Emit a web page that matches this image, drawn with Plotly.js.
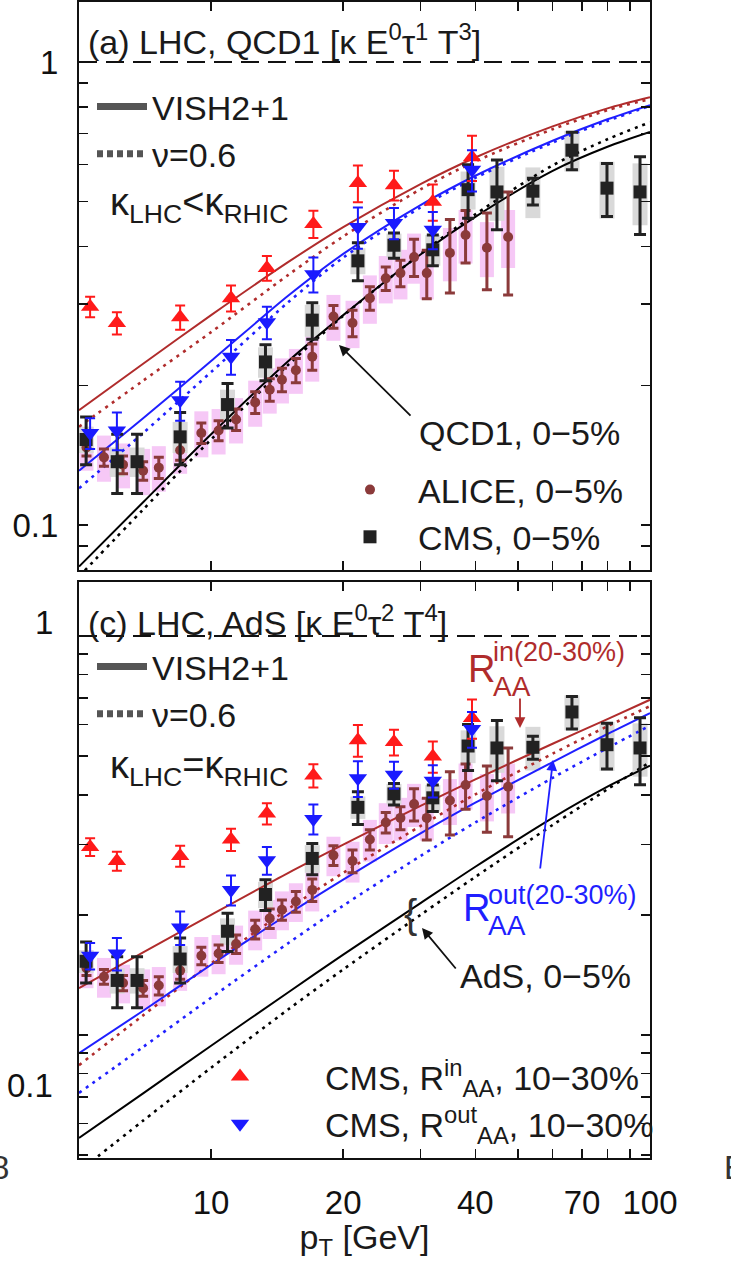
<!DOCTYPE html>
<html><head><meta charset="utf-8">
<script src="https://cdn.plot.ly/plotly-3.0.1.min.js"></script>
<style>html,body{margin:0;padding:0;background:#fff}#chart{width:731px;height:1261px}</style>
</head><body><div id="chart"></div>
<script>
// ---------- data ----------
const curvePt = [5, 7, 10, 15, 20, 30, 40, 60, 80, 100];
// panel (a) QCD1
const qcdInVish  = [0.177, 0.223, 0.284, 0.370, 0.440, 0.545, 0.622, 0.726, 0.794, 0.839];
const qcdInNu    = [0.163, 0.205, 0.261, 0.347, 0.420, 0.531, 0.610, 0.716, 0.787, 0.832];
const qcdOutVish = [0.131, 0.170, 0.226, 0.313, 0.385, 0.491, 0.568, 0.676, 0.752, 0.807];
const qcdOutNu   = [0.120, 0.158, 0.214, 0.303, 0.378, 0.485, 0.562, 0.670, 0.746, 0.804];
const qcdCenVish = [0.0813, 0.112, 0.157, 0.226, 0.284, 0.384, 0.463, 0.582, 0.656, 0.706];
const qcdCenNu   = [0.0774, 0.108, 0.153, 0.222, 0.283, 0.385, 0.469, 0.598, 0.681, 0.741];
// panel (c) AdS
const adsInVish  = [0.131, 0.161, 0.200, 0.255, 0.300, 0.375, 0.437, 0.537, 0.619, 0.692];
const adsInNu    = [0.084, 0.112, 0.151, 0.207, 0.255, 0.334, 0.401, 0.507, 0.594, 0.667];
const adsOutVish = [0.090, 0.115, 0.150, 0.201, 0.245, 0.320, 0.382, 0.483, 0.568, 0.641];
const adsOutNu   = [0.0716, 0.0933, 0.124, 0.170, 0.211, 0.281, 0.341, 0.441, 0.524, 0.596];
const adsCenVish = [0.0552, 0.0714, 0.0940, 0.128, 0.159, 0.214, 0.264, 0.350, 0.419, 0.473];
const adsCenNu   = [0.0455, 0.0610, 0.0828, 0.116, 0.146, 0.200, 0.249, 0.336, 0.413, 0.483];

// CMS R_AA in / out, 10-30%
const cmsPlanePt = [5.3, 6.1, 8.5, 11.1, 13.4, 17.1, 21.6, 26.1, 32.0, 39.3];
const cmsInR     = [0.296, 0.273, 0.281, 0.309, 0.359, 0.447, 0.548, 0.542, 0.499, 0.623];
const cmsInErr   = [0.015, 0.015, 0.017, 0.020, 0.022, 0.030, 0.050, 0.040, 0.045, 0.070];
const cmsOutR    = [0.158, 0.160, 0.186, 0.231, 0.274, 0.348, 0.440, 0.449, 0.434, 0.585];
const cmsOutErr  = [0.012, 0.015, 0.018, 0.020, 0.022, 0.030, 0.045, 0.035, 0.040, 0.060];

// CMS 0-5%
const cmsPt   = [5.19, 6.11, 6.78, 8.50, 10.9, 13.3, 17.0, 21.6, 26.1, 32.0, 38.5, 44.8, 54.1, 66.4, 79.8, 94.9];
const cmsR    = [0.153, 0.137, 0.137, 0.155, 0.182, 0.225, 0.277, 0.372, 0.402, 0.393, 0.530, 0.524, 0.526, 0.645, 0.534, 0.524];
const cmsStat = [0.018, 0.020, 0.020, 0.020, 0.020, 0.020, 0.025, 0.035, 0.025, 0.030, 0.070, 0.090, 0.035, 0.060, 0.070, 0.100];
const cmsSys  = [0.010, 0.010, 0.010, 0.012, 0.014, 0.017, 0.022, 0.024, 0.024, 0.030, 0.050, 0.070, 0.066, 0.065, 0.075, 0.080];

// ALICE 0-5%
const alicePt   = [5.2, 5.7, 6.3, 7.0, 7.6, 8.5, 9.5, 10.4, 11.4, 12.6, 13.6, 14.5, 15.6, 17.0, 19.0, 21.0, 23.0, 25.0, 27.0, 29.0, 31.0, 35.0, 38.0, 42.5, 47.5];
const aliceR    = [0.147, 0.140, 0.135, 0.131, 0.133, 0.145, 0.158, 0.160, 0.169, 0.184, 0.196, 0.206, 0.216, 0.231, 0.282, 0.273, 0.309, 0.341, 0.350, 0.379, 0.350, 0.387, 0.423, 0.397, 0.419];
const aliceStat = [0.006, 0.006, 0.006, 0.006, 0.007, 0.007, 0.008, 0.008, 0.009, 0.010, 0.011, 0.012, 0.013, 0.015, 0.016, 0.018, 0.018, 0.020, 0.023, 0.035, 0.042, 0.070, 0.055, 0.075, 0.105];
const aliceSys  = [0.016, 0.016, 0.015, 0.015, 0.015, 0.016, 0.018, 0.018, 0.019, 0.021, 0.022, 0.023, 0.024, 0.027, 0.032, 0.032, 0.037, 0.040, 0.043, 0.047, 0.043, 0.051, 0.056, 0.054, 0.060];

const xTickVals = [10, 20, 30, 40, 50, 60, 70, 80, 90, 100];
const xTickText = ['10', '20', '', '40', '', '', '70', '', '', '100'];
const yTickVals = [0.04, 0.05, 0.06, 0.07, 0.08, 0.09, 0.1, 0.2, 0.3, 0.4, 0.5, 0.6, 0.7, 0.8, 0.9, 1];
const yTickText = ['', '', '', '', '', '', '0.1', '', '', '', '', '', '', '', '', '1'];

// ---------- geometry helpers (pixel -> paper) ----------
const L = 79, R = 650, T = 2, B = 1158;
const px = v => (v - L) / (R - L);
const py = v => (B - v) / (B - T);

const RED = '#ff1a1a', BLUE = '#1a1aff', BROWN = '#8b3a3a', BLK = '#222222';
const CRED = '#b02c2c', CBLUE = '#1f1fff';
const FONT = 'Liberation Sans, Arial, sans-serif';
const FS = 34;

const traces = [];
function panel(xa, ya, curves, legendData) {
  traces.push({type:'scatter', mode:'markers', x:alicePt, y:aliceR, xaxis:xa, yaxis:ya,
    marker:{size:1, opacity:0}, error_y:{type:'data', array:aliceSys, color:'#f6c8f6', thickness:14, width:0},
    showlegend:false, hoverinfo:'skip'});
  traces.push({type:'scatter', mode:'markers', x:cmsPt, y:cmsR, xaxis:xa, yaxis:ya,
    marker:{size:1, opacity:0}, error_y:{type:'data', array:cmsSys, color:'#d9d9d9', thickness:15, width:0},
    showlegend:false, hoverinfo:'skip'});
  curves.forEach(c => traces.push({type:'scatter', mode:'lines', x:curvePt, y:c.y, xaxis:xa, yaxis:ya,
    line:{color:c.color, width:c.dash ? 2.6 : 2, dash:c.dash || 'solid', shape:'spline', smoothing:0.8},
    showlegend:false, hoverinfo:'skip'}));
  traces.push({type:'scatter', mode:'markers', x:alicePt, y:aliceR, xaxis:xa, yaxis:ya, name:'ALICE, 0−5%',
    marker:{symbol:'circle', size:10, color:BROWN}, error_y:{type:'data', array:aliceStat, color:BROWN, thickness:3, width:5},
    showlegend: legendData === 'a', legend:'legend2', legendgroup:'g1'});
  traces.push({type:'scatter', mode:'markers', x:cmsPt, y:cmsR, xaxis:xa, yaxis:ya, name:'CMS, 0−5%',
    marker:{symbol:'square', size:13, color:BLK}, error_y:{type:'data', array:cmsStat, color:BLK, thickness:3, width:6},
    showlegend: legendData === 'a', legend:'legend2', legendgroup:'g2'});
  traces.push({type:'scatter', mode:'markers', x:cmsPlanePt, y:cmsInR, xaxis:xa, yaxis:ya, name:'CMS, R<sup>in</sup><sub>AA</sub>, 10−30%',
    marker:{symbol:'triangle-up', size:16, color:RED}, error_y:{type:'data', array:cmsInErr, color:RED, thickness:2, width:5},
    showlegend: legendData === 'c', legend:'legend4', legendgroup:'g3'});
  traces.push({type:'scatter', mode:'markers', x:cmsPlanePt, y:cmsOutR, xaxis:xa, yaxis:ya, name:'CMS, R<sup>out</sup><sub>AA</sub>, 10−30%',
    marker:{symbol:'triangle-down', size:16, color:BLUE}, error_y:{type:'data', array:cmsOutErr, color:BLUE, thickness:2, width:5},
    showlegend: legendData === 'c', legend:'legend4', legendgroup:'g4'});
  const lg = legendData === 'a' ? 'legend' : 'legend3';
  traces.push({type:'scatter', mode:'lines', x:[null], y:[null], xaxis:xa, yaxis:ya, name:'VISH2+1',
    line:{color:'#555', width:7}, legend:lg, showlegend:true});
  traces.push({type:'scatter', mode:'lines', x:[null], y:[null], xaxis:xa, yaxis:ya, name:'ν=0.6',
    line:{color:'#555', width:7, dash:'6px,4px'}, legend:lg, showlegend:true});
}
const DOT = '3px,5px';
panel('x', 'y', [
  {y:qcdInVish, color:CRED}, {y:qcdInNu, color:CRED, dash:DOT},
  {y:qcdOutVish, color:CBLUE}, {y:qcdOutNu, color:CBLUE, dash:DOT},
  {y:qcdCenVish, color:'#000'}, {y:qcdCenNu, color:'#000', dash:DOT}], 'a');
panel('x2', 'y2', [
  {y:adsInVish, color:CRED}, {y:adsInNu, color:CRED, dash:DOT},
  {y:adsOutVish, color:CBLUE}, {y:adsOutNu, color:CBLUE, dash:DOT},
  {y:adsCenVish, color:'#000'}, {y:adsCenNu, color:'#000', dash:DOT}], 'c');

const yr1 = [-1.0972, 0.1296], yr2 = [-1.3083, 0.1353];
const axCommon = {type:'log', ticks:'inside', ticklen:9, tickwidth:1.5, tickcolor:'#111', showline:true, linewidth:2,
  linecolor:'#111', mirror:'ticks', showgrid:false, zeroline:false, tickfont:{size:33, family:FONT, color:'#111'}};
const xax = extra => Object.assign({}, axCommon, {range:[Math.log10(5), 2], domain:[0, 1], tickvals:xTickVals}, extra);
const yax = extra => Object.assign({}, axCommon, {tickvals:yTickVals, ticklabelstandoff:12}, extra);

function ann(text, x, y, o) {
  return Object.assign({text:text, x:px(x), y:py(y), xref:'paper', yref:'paper', showarrow:false,
    xanchor:'left', yanchor:'middle', font:{size:FS, family:FONT, color:'#1a1a1a'}}, o || {});
}
function arrow(tipX, tipY, tailX, tailY, color) {
  return {text:'', x:px(tipX), y:py(tipY), xref:'paper', yref:'paper', showarrow:true,
    ax:tailX - tipX, ay:tailY - tipY, arrowhead:2, arrowsize:1.2, arrowwidth:1.8, arrowcolor:color};
}
const legBase = {bgcolor:'rgba(0,0,0,0)', borderwidth:0, font:{size:FS, family:FONT, color:'#1a1a1a'},
  xanchor:'left', yanchor:'top', traceorder:'normal'};

const layout = {
  width:731, height:1261, margin:{l:L, r:731 - R, t:T, b:1261 - B},
  paper_bgcolor:'#fff', plot_bgcolor:'#fff', font:{family:FONT, size:FS, color:'#1a1a1a'},
  showlegend:true,
  xaxis: xax({anchor:'y', ticktext:xTickVals.map(() => '')}),
  xaxis2: xax({anchor:'y2', ticktext:xTickText, ticklabelstandoff:14,
    title:{text:'p<sub>T</sub> [GeV]', font:{size:FS, family:FONT, color:'#1a1a1a'}, standoff:4}}),
  yaxis: yax({anchor:'x', domain:[py(570), 1], range:yr1, ticktext:yTickText}),
  yaxis2: yax({anchor:'x2', domain:[0, py(582)], range:yr2, ticktext:yTickVals.map(() => '')}),
  legend: Object.assign({}, legBase, {x:px(92), y:py(78), itemwidth:50}),
  legend2: Object.assign({}, legBase, {x:px(322), y:py(461), itemwidth:86, tracegroupgap:6}),
  legend3: Object.assign({}, legBase, {x:px(92), y:py(638), itemwidth:50}),
  legend4: Object.assign({}, legBase, {x:px(155), y:py(1048), itemwidth:160, tracegroupgap:0}),
  shapes: [
    {type:'line', xref:'x domain', yref:'y domain', x0:0, x1:1, y0:(0 - yr1[0]) / (yr1[1] - yr1[0]), y1:(0 - yr1[0]) / (yr1[1] - yr1[0]),
      line:{color:'#111', width:2, dash:'18px,9px'}},
    {type:'line', xref:'x2 domain', yref:'y2 domain', x0:0, x1:1, y0:(0 - yr2[0]) / (yr2[1] - yr2[0]), y1:(0 - yr2[0]) / (yr2[1] - yr2[0]),
      line:{color:'#111', width:2, dash:'18px,9px'}}
  ],
  annotations: [
    ann('(a) LHC, QCD1 [κ E<sup>0</sup>τ<sup>1</sup> T<sup>3</sup>]', 86, 40),
    ann('κ<sub>LHC</sub>&lt;κ<sub>RHIC</sub>', 108, 205, {font:{size:38, family:FONT, color:'#1a1a1a'}}),
    ann('QCD1, 0−5%', 622, 433, {xanchor:'right'}),
    arrow(339, 345, 412, 417, '#111'),
    ann('(c) LHC, AdS [κ E<sup>0</sup>τ<sup>2</sup> T<sup>4</sup>]', 86, 620),
    ann('κ<sub>LHC</sub>=κ<sub>RHIC</sub>', 108, 768, {font:{size:38, family:FONT, color:'#1a1a1a'}}),
    ann('1', 55, 622, {xanchor:'right', font:{size:33, family:FONT, color:'#111'}}),
    ann('0.1', 55, 1085, {xanchor:'right', font:{size:33, family:FONT, color:'#111'}}),
    ann('R', 466, 669, {font:{size:38, family:FONT, color:CRED}}),
    ann('in(20-30%)', 491, 652, {font:{size:27, family:FONT, color:CRED}}),
    ann('AA', 491, 686, {font:{size:28, family:FONT, color:CRED}}),
    arrow(520, 728, 520, 697, CRED),
    ann('R', 461, 908, {font:{size:38, family:FONT, color:CBLUE}}),
    ann('out(20-30%)', 486, 895, {font:{size:27, family:FONT, color:CBLUE}}),
    ann('AA', 486, 925, {font:{size:28, family:FONT, color:CBLUE}}),
    arrow(553, 760, 540, 870, CBLUE),
    ann('{', 410, 914, {xanchor:'center', font:{size:40, family:FONT, color:'#333'}}),
    ann('AdS, 0−5%', 633, 976, {xanchor:'right'}),
    arrow(422, 928, 457, 970, '#111'),
    ann('8', 11, 1167, {xanchor:'right', font:{size:33, family:FONT, color:'#333'}}),
    ann('E', 722, 1167, {font:{size:33, family:FONT, color:'#333'}})
  ]
};

Plotly.newPlot('chart', traces, layout, {displayModeBar:false, staticPlot:true});
</script></body></html>
